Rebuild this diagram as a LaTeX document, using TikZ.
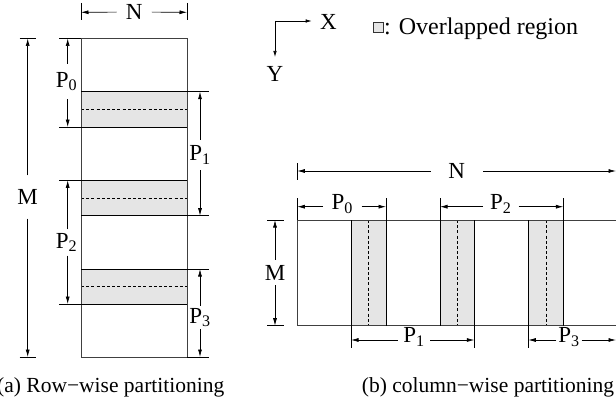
\documentclass[tikz,border=0pt]{standalone}
\usepackage{fontspec}
\setmainfont{Liberation Serif}
\usetikzlibrary{arrows.meta}
\begin{document}
\begin{tikzpicture}[x=1pt,y=-1pt,
  outline/.style={draw=black!75,line width=0.8pt},
  shade/.style={fill=black!10},
  edge/.style={draw=black,line width=0.8pt},
  midline/.style={draw=black,line width=0.6pt,dash pattern=on 3pt off 2.2pt},
  dimarr/.style={draw=black,line width=0.7pt,-{Latex[length=7.5pt,width=4pt]}},
  axarr/.style={draw=black,line width=0.7pt,-{Latex[length=6pt,width=3.5pt]}},
  lbl/.style={inner sep=0pt,font=\fontsize{23}{23}\selectfont},
  capt/.style={inner sep=0pt,font=\fontsize{21.5}{24}\selectfont,anchor=base west},
]
\useasboundingbox (0,0) rectangle (616,404);

% ---------------- left panel: row-wise ----------------
\fill[shade] (81,91.7) rectangle (187,127);
\fill[shade] (81,180.3) rectangle (187,215.7);
\fill[shade] (81,269) rectangle (187,304);
\draw[midline] (81,109.3) -- (187,109.3);
\draw[midline] (81,198) -- (187,198);
\draw[midline] (81,286.5) -- (187,286.5);
\draw[outline] (81,38.5) rectangle (187,357);
\draw[edge] (59,38.5) -- (81,38.5);
\draw[edge] (59,127) -- (187,127);
\draw[edge] (81,91.7) -- (209,91.7);
\draw[edge] (59,180.3) -- (187,180.3);
\draw[edge] (81,215.7) -- (209,215.7);
\draw[edge] (81,269) -- (209,269);
\draw[edge] (59,304) -- (187,304);
\draw[edge] (187,357) -- (209,357);
\draw[edge] (19.7,38.5) -- (36,38.5);
\draw[edge] (19.7,357) -- (36,357);
\draw[edge] (81,3) -- (81,20);
\draw[edge] (187,3) -- (187,20);

\coordinate (lNa) at (81,12.3);   \coordinate (lNb) at (187,12.3);
\coordinate (lMa) at (27.7,38.5); \coordinate (lMb) at (27.7,357);
\coordinate (lP0a) at (67.7,38.5);  \coordinate (lP0b) at (67.7,127);
\coordinate (lP1a) at (200,91.7);   \coordinate (lP1b) at (200,215.7);
\coordinate (lP2a) at (67.7,180.3); \coordinate (lP2b) at (67.7,304);
\coordinate (lP3a) at (200,269);    \coordinate (lP3b) at (200,357);

\node[lbl,minimum width=35pt] (lN) at (134.2,12) {N};
\node[lbl,minimum height=43pt] (lM) at (27.7,197) {M};
\node[lbl,minimum height=35pt] (lP0) at (66.5,81.5) {P\textsubscript{0}};
\node[lbl,minimum height=30pt] (lP1) at (200,155) {P\textsubscript{1}};
\node[lbl,minimum height=26pt] (lP2) at (66.5,242.5) {P\textsubscript{2}};
\node[lbl,minimum height=23pt] (lP3) at (200,317.5) {P\textsubscript{3}};
\draw[dimarr] (lN) -- (lNa);  \draw[dimarr] (lN) -- (lNb);
\draw[dimarr] (lM) -- (lMa);  \draw[dimarr] (lM) -- (lMb);
\draw[dimarr] (lP0.north -| lP0a) -- (lP0a); \draw[dimarr] (lP0.south -| lP0b) -- (lP0b);
\draw[dimarr] (lP1) -- (lP1a); \draw[dimarr] (lP1) -- (lP1b);
\draw[dimarr] (lP2.north -| lP2a) -- (lP2a); \draw[dimarr] (lP2.south -| lP2b) -- (lP2b);
\draw[dimarr] (lP3) -- (lP3a); \draw[dimarr] (lP3) -- (lP3b);

% ---------------- legend ----------------
\coordinate (org) at (275,21);
\coordinate (xend) at (311.7,21);
\coordinate (yend) at (275,57);
\draw[axarr] (org) -- (xend);
\draw[axarr] (org) -- (yend);
\node[lbl] (xl) at (328.5,21.5) {X};
\node[lbl] (yl) at (275,73.5) {Y};
\node[draw=black!80,fill=black!10,line width=0.6pt,minimum size=10pt,inner sep=0pt] (legbox) at (378,27.8) {};
\node[lbl,anchor=base west,font=\fontsize{24}{24}\selectfont] (legtxt) at (384,34.3) {: Overlapped region};

% ---------------- right panel: column-wise ----------------
\fill[shade] (351,220) rectangle (386,325.7);
\fill[shade] (440,220) rectangle (474.3,325.7);
\fill[shade] (528.3,220) rectangle (563.3,325.7);
\draw[midline] (368.5,220) -- (368.5,325.7);
\draw[midline] (457,220) -- (457,325.7);
\draw[midline] (545.8,220) -- (545.8,325.7);
\draw[outline] (297.3,220) rectangle (620,325.7);
\draw[edge] (297.3,198) -- (297.3,220);
\draw[edge] (386,198) -- (386,325.7);
\draw[edge] (440,198) -- (440,325.7);
\draw[edge] (563.3,198) -- (563.3,325.7);
\draw[edge] (351,220) -- (351,348);
\draw[edge] (474.3,220) -- (474.3,348);
\draw[edge] (528.3,220) -- (528.3,348);
\draw[edge] (297.3,163) -- (297.3,180);
\draw[edge] (267.3,220) -- (284.3,220);
\draw[edge] (267.3,325.7) -- (284.3,325.7);

\coordinate (rNa) at (297.3,171); \coordinate (rNb) at (616,171);
\coordinate (rMa) at (275,220);   \coordinate (rMb) at (275,325.7);
\coordinate (rP0a) at (297.3,206.7); \coordinate (rP0b) at (386,206.7);
\coordinate (rP2a) at (440,206.7);   \coordinate (rP2b) at (563.3,206.7);
\coordinate (rP1a) at (351,340);     \coordinate (rP1b) at (474.3,340);
\coordinate (rP3a) at (528.3,340);   \coordinate (rP3b) at (616,340);

\node[lbl,minimum width=52pt] (rN) at (456.8,171) {N};
\node[lbl,minimum height=25pt] (rM) at (275,272.5) {M};
\node[lbl,minimum width=38pt] (rP0) at (342.3,204) {P\textsubscript{0}};
\node[lbl,minimum width=35pt] (rP2) at (500.8,204) {P\textsubscript{2}};
\node[lbl,minimum width=32pt] (rP1) at (414,337) {P\textsubscript{1}};
\node[lbl,minimum width=25pt] (rP3) at (569,337) {P\textsubscript{3}};
\draw[dimarr] (rN) -- (rNa); \draw[dimarr] (rN) -- (rNb);
\draw[dimarr] (rM) -- (rMa); \draw[dimarr] (rM) -- (rMb);
\draw[dimarr] (rP0.west |- rP0a) -- (rP0a); \draw[dimarr] (rP0.east |- rP0b) -- (rP0b);
\draw[dimarr] (rP2.west |- rP2a) -- (rP2a); \draw[dimarr] (rP2.east |- rP2b) -- (rP2b);
\draw[dimarr] (rP1.west |- rP1a) -- (rP1a); \draw[dimarr] (rP1.east |- rP1b) -- (rP1b);
\draw[dimarr] (rP3.west |- rP3a) -- (rP3a); \draw[dimarr] (rP3.east |- rP3b) -- (rP3b);

% ---------------- captions ----------------
\node[capt] (capa) at (-3,392) {(a) Row\textminus wise partitioning};
\node[capt] (capb) at (361.7,392) {(b) column\textminus wise partitioning};
\end{tikzpicture}
\end{document}
